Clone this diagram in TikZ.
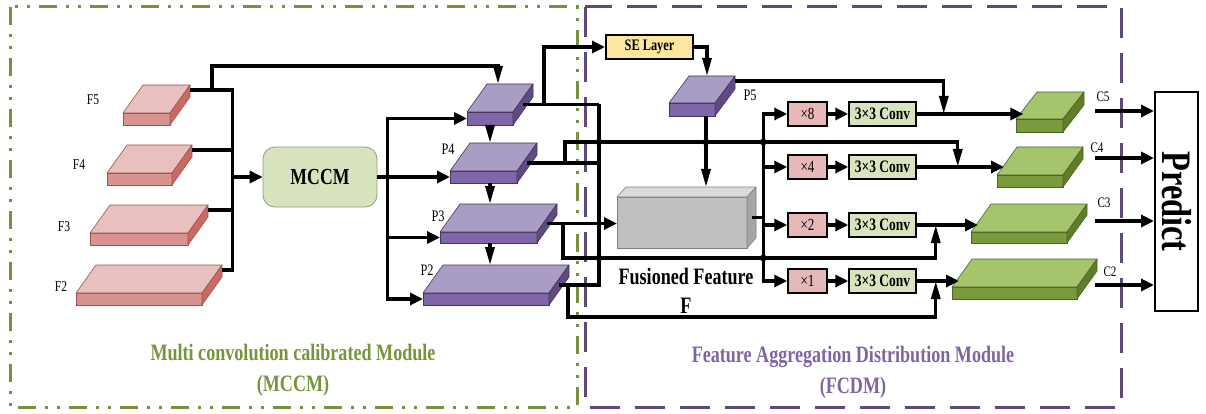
\documentclass[tikz,border=0pt]{standalone}
\usepackage{fontspec}
\usepackage{graphicx}
\setmainfont{Liberation Serif}[FakeStretch=0.77]
\usetikzlibrary{arrows.meta,calc}

% palettes for the feature slabs
\definecolor{redtop}{HTML}{E8C0BF}
\definecolor{redfront}{HTML}{D8938F}
\definecolor{redside}{HTML}{C96A63}
\definecolor{rededge}{HTML}{9B5550}
\definecolor{purtop}{HTML}{A99CC5}
\definecolor{purfront}{HTML}{7F66A8}
\definecolor{purside}{HTML}{604A80}
\definecolor{puredge}{HTML}{45355F}
\definecolor{grntop}{HTML}{A6C46C}
\definecolor{grnfront}{HTML}{7A9A3E}
\definecolor{grnside}{HTML}{5F7D2A}
\definecolor{grnedge}{HTML}{4F6228}
\definecolor{grytop}{HTML}{DADADA}
\definecolor{gryfront}{HTML}{C0C0C0}
\definecolor{gryside}{HTML}{A6A6A6}
\definecolor{gryedge}{HTML}{808080}
% boxes and frames
\definecolor{mccmfill}{HTML}{D7E4BD}
\definecolor{mccmedge}{HTML}{8F9C80}
\definecolor{sefill}{HTML}{FDE69E}
\definecolor{mulfill}{HTML}{E6B9B8}
\definecolor{frameg}{HTML}{76923C}
\definecolor{framep}{HTML}{5F497A}
\definecolor{titleg}{HTML}{77933C}
\definecolor{titlep}{HTML}{8064A2}

\tikzset{
  conn/.style={line width=3.2pt, black},
  toh/.style={-{Triangle[length=13pt,width=12pt]}},
  tov/.style={-{Triangle[length=18pt,width=9pt]}},
  slabfront/.style={rectangle, inner sep=0pt, outer sep=0pt, line width=0.6pt},
  lab/.style={inner sep=0pt, font=\fontsize{15}{15}\selectfont},
  clab/.style={inner sep=0pt, font=\fontsize{14.5}{15}\selectfont},
  mccmbox/.style={draw=mccmedge, fill=mccmfill, rounded corners=12pt, line width=0.8pt,
    minimum width=114, minimum height=60, inner sep=0pt, font=\bfseries\fontsize{23}{23}\selectfont},
  sebox/.style={draw, fill=sefill, line width=2pt, minimum width=87, minimum height=24,
    inner sep=0pt, font=\bfseries\fontsize{16}{16}\selectfont},
  mulbox/.style={draw, fill=mulfill, line width=1.5pt, minimum width=39, minimum height=24,
    inner sep=0pt, font=\fontsize{17}{17}\selectfont},
  convbox/.style={draw, fill=mccmfill, line width=1.5pt, minimum width=67, minimum height=24,
    inner sep=0pt, font=\bfseries\fontsize{17.5}{18}\selectfont},
  predbox/.style={draw, fill=white, line width=2pt, minimum width=43, minimum height=219,
    inner sep=0pt, font=\bfseries\fontsize{42}{42}\selectfont},
  gtitle/.style={align=center, text=titleg, inner sep=0pt, font=\bfseries\fontsize{23.5}{31}\selectfont},
  ptitle/.style={align=center, text=titlep, inner sep=0pt, font=\bfseries\fontsize{23.5}{31}\selectfont},
  fftext/.style={align=center, inner sep=0pt, font=\bfseries\fontsize{23.5}{29}\selectfont},
}

% a feature map drawn as a slab: name, front top-left corner, width, height, palette, depth dx, dy
\newcommand\slab[7]{%
  \node[slabfront, fill=#5front, draw=#5edge, minimum width=#3, minimum height=#4, anchor=north west] (#1) at #2 {};
  \filldraw[fill=#5top, draw=#5edge, line width=0.6pt, line join=round]
    (#1.north west) -- ++(#6,-#7) -- ++(#3,0) -- (#1.north east) -- cycle;
  \filldraw[fill=#5side, draw=#5edge, line width=0.6pt, line join=round]
    (#1.north east) -- ++(#6,-#7) -- ++(0,#4) -- (#1.south east) -- cycle;
  \coordinate (#1-bk) at ($(#1.north west)+(#6,-#7)$);
  \coordinate (#1-out) at ($(#1.north east)+(#6,-#7)+(0,5)$);
  \coordinate (#1-side) at ($(#1.east)+(#6/2,-#7/2)$);
  \coordinate (#1-in) at ($(#1.north west)+(0.35*#6,-0.35*#7)$);
}

\begin{document}
\begin{tikzpicture}[x=1pt,y=-1pt]
\useasboundingbox (0,0) rectangle (1206,414);

% module frames
\draw[frameg, line width=3pt, dash pattern=on 18pt off 9pt on 3pt off 9pt on 3pt off 9pt]
  (10,7) rectangle (577,407);
\draw[framep, line width=3pt, dash pattern=on 30pt off 15pt]
  (585,7) rectangle (1121,407);

% backbone features
\slab{f5}{(123,113)}{47}{12}{red}{20}{28}
\slab{f4}{(107,173)}{65}{12}{red}{20}{28}
\slab{f3}{(90,233)}{98}{12}{red}{20}{28}
\slab{f2}{(76,293)}{126}{12}{red}{20}{28}
\node[lab] (lf5) at (93,100) {F5};
\node[lab] (lf4) at (79,165) {F4};
\node[lab] (lf3) at (64,227) {F3};
\node[lab] (lf2) at (61,287) {F2};

% MCCM block
\node[mccmbox] (mccm) at (320,177) {MCCM};

% pyramid features
\slab{p5}{(467,112)}{46}{13}{pur}{20}{28}
\slab{p4}{(450,171)}{67}{12}{pur}{20}{28}
\slab{p3}{(440,232)}{97}{11}{pur}{20}{28}
\slab{p2}{(423,293)}{126}{12}{pur}{20}{28}
\node[lab, font=\fontsize{16}{16}\selectfont] (lp4) at (448,149) {P4};
\node[lab, font=\fontsize{16}{16}\selectfont] (lp3) at (438,216) {P3};
\node[lab, font=\fontsize{16}{16}\selectfont] (lp2) at (427,270) {P2};

% SE branch and refined P5
\node[sebox] (se) at (649.5,47) {SE Layer};
\slab{q5}{(669,103)}{46}{13}{pur}{20}{27}
\node[lab, font=\fontsize{16}{16}\selectfont] (lq5) at (750,95) {P5};

% fused feature
\slab{gb}{(617,197)}{130}{51}{gry}{9}{10}
\node[fftext] (fft) at (686,290.5) {Fusioned Feature\\F};

% distribution rows
\node[mulbox] (x8) at (807.5,114) {×8};
\node[mulbox] (x4) at (807.5,167) {×4};
\node[mulbox] (x2) at (807.5,225) {×2};
\node[mulbox] (x1) at (807.5,281) {×1};
\node[convbox] (cv8) at (882.5,114) {3×3 Conv};
\node[convbox] (cv4) at (882.5,167) {3×3 Conv};
\node[convbox] (cv2) at (882.5,225) {3×3 Conv};
\node[convbox] (cv1) at (882.5,281) {3×3 Conv};

% output features
\slab{c5}{(1016,119)}{47}{13}{grn}{21}{27}
\slab{c4}{(997,175)}{66}{12}{grn}{20}{28}
\slab{c3}{(971,232)}{96}{11}{grn}{20}{28}
\slab{c2}{(952,287)}{125}{12}{grn}{20}{28}
\node[clab] (lc5) at (1103,97) {C5};
\node[clab] (lc4) at (1097,148) {C4};
\node[clab] (lc3) at (1104,203) {C3};
\node[clab] (lc2) at (1110,272) {C2};

% prediction head
\node[predbox] (pred) at (1176.5,201.5) {\rotatebox{-90}{Predict}};

% ---- connectors ----
% backbone to MCCM
\coordinate (lb) at ($(mccm.west)+(-30,0)$);
\draw[conn] (f5-out) -| (lb |- f2-out) -- (f2-out);
\draw[conn] (f4-out) -- (f4-out -| lb);
\draw[conn] (f3-out) -- (f3-out -| lb);
\draw[conn,toh] (lb) -- (mccm.west);
\draw[conn,tov] ($(f5-out)+(22,0)$) -- ++(0,-24) -| ($(p5-bk)+(11,0)$);

% MCCM to pyramid
\coordinate (mb) at ($(mccm.east)+(10,0)$);
\draw[conn,toh] (mccm.east) -- (mccm.east -| p4.west);
\draw[conn,toh] (mb |- p2.west) |- (p5.west);
\draw[conn,toh] (mb |- p5.west) |- (p2.west);
\draw[conn,toh] (mb |- p3.west) -- (p3.west);

% top-down path
\draw[conn,tov] (p5.south) -- (p5.south |- p4-bk);
\draw[conn,tov] (p4.south -| p5.south) -- (p5.south |- p3-bk);
\draw[conn,tov] (p3.south -| p5.south) -- (p5.south |- p2-bk);

% aggregation
\draw[conn] (p5-side) -- ++(76,0) coordinate (vt);
\draw[conn] (p2-side) -| (vt);
\draw[conn] (p4-side) -- (p4-side -| vt);
\draw[conn,toh] ($(p5-side)+(21,0)$) |- (se.west);
\draw[conn,tov] (se.east) -| ($(q5-bk)+(18,0)$);
\draw[conn,tov] ($(q5.south)+(14,0)$) coordinate (q5d) -- (q5d |- gb-bk);
\draw[conn,toh] (p3-side) -- (p3-side -| gb.west);

% distribution
\coordinate (rb) at ($(x8.west)+(-24,0)$);
\draw[conn] (gb-side) -- (gb-side -| rb);
\draw[conn,toh] (rb |- x1.west) |- (x8.west);
\draw[conn,toh] (rb |- x8.west) |- (x1.west);
\draw[conn,toh] (rb |- x4.west) -- (x4.west);
\draw[conn,toh] (rb |- x2.west) -- (x2.west);
\foreach \m/\c in {x8/cv8, x4/cv4, x2/cv2, x1/cv1}
  \draw[conn,toh] (\m) -- (\c);
\draw[conn,toh] (cv8.east) -- (cv8.east -| c5-in);
\draw[conn,toh] (cv4.east) -- (cv4.east -| c4-in);
\draw[conn,toh] (cv2.east) -- (cv2.east -| c3-in);
\draw[conn,toh] (cv1.east) -- (cv1.east -| c2-in);

% skip connections into each level
\coordinate (j5) at ($(cv8.east)+(27,0)$);
\coordinate (j4) at ($(cv4.east)+(41,0)$);
\coordinate (h4) at ($(j4)+(0,-25)$);
\coordinate (j3) at ($(cv2.east)+(19,0)$);
\coordinate (h3) at ($(j3)+(0,33)$);
\coordinate (j1) at ($(cv1.east)+(19,0)$);
\coordinate (h1) at ($(j1)+(0,36)$);
\draw[conn,tov] (q5-out) -| (j5);
\draw[conn,tov] ($(p4-side)+(38,0)$) |- (h4) -- (j4);
\draw[conn,tov] ($(p3-side)+(16,0)$) |- (h3) -- (j3);
\draw[conn,tov] ($(p2-side)+(9,0)$) |- (h1) -- (j1);

% junctions
\foreach \p in {vt |- h4, q5d |- h4, rb |- h4, vt |- h3, rb |- h3}
  \fill (\p) circle (3.4pt);

% outputs to prediction
\coordinate (co5) at (1095,111);
\coordinate (co4) at (1095,158);
\coordinate (co3) at (1095,221);
\coordinate (co2) at (1095,285);
\foreach \c in {co5, co4, co3, co2}
  \draw[conn,toh] (\c) -- (\c -| pred.west);

% module titles
\node[gtitle] (tg) at (293,370.5) {Multi convolution calibrated Module\\(MCCM)};
\node[ptitle] (tp) at (853,372) {Feature Aggregation Distribution Module\\(FCDM)};
\end{tikzpicture}
\end{document}
